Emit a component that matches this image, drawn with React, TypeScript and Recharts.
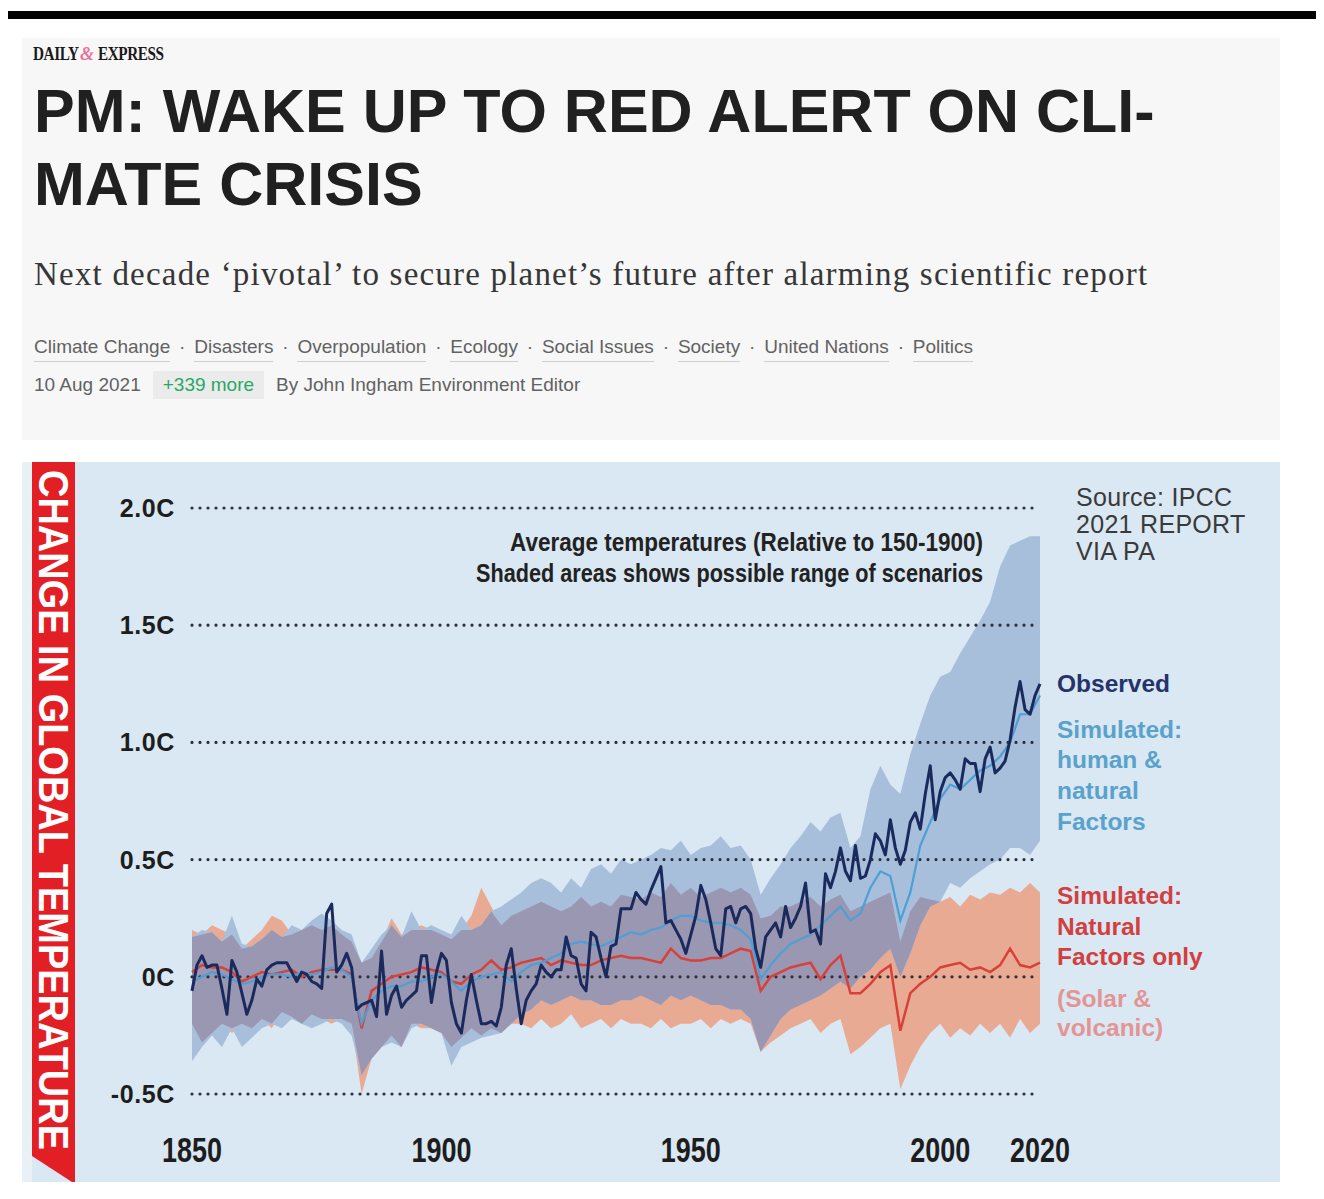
import { ComposedChart, Line, Area, XAxis, YAxis, ReferenceLine } from 'recharts';

// observed annual anomaly, 1850..2020
const observed = [
  -0.06, 0.05, 0.09, 0.04, 0.05, 0.05, -0.05, -0.16, 0.07, 0.02,
  -0.07, -0.16, -0.10, -0.01, -0.04, 0.03, 0.05, 0.06, 0.06, 0.06,
  0.02, -0.02, 0.02, 0.01, -0.02, -0.03, -0.05, 0.27, 0.31, 0.02,
  0.05, 0.10, 0.04, -0.14, -0.12, -0.11, -0.10, -0.17, 0.11, -0.16,
  -0.08, -0.04, -0.13, -0.10, -0.08, -0.06, 0.09, 0.09, -0.11, 0.02,
  0.10, 0.07, -0.11, -0.20, -0.24, -0.10, 0.01, -0.10, -0.20, -0.20,
  -0.19, -0.21, -0.13, 0.05, 0.12, -0.05, -0.20, -0.10, -0.06, -0.03,
  0.05, 0.02, 0.00, 0.03, 0.03, 0.17, 0.09, 0.08, -0.03, -0.06,
  0.19, 0.17, 0.08, 0.00, 0.13, 0.14, 0.29, 0.29, 0.29, 0.36,
  0.33, 0.31, 0.37, 0.42, 0.47, 0.23, 0.24, 0.20, 0.16, 0.10,
  0.18, 0.26, 0.39, 0.33, 0.23, 0.12, 0.09, 0.29, 0.30, 0.23,
  0.29, 0.30, 0.27, 0.12, 0.04, 0.17, 0.20, 0.23, 0.17, 0.30,
  0.21, 0.25, 0.30, 0.40, 0.19, 0.20, 0.14, 0.44, 0.38, 0.45,
  0.55, 0.45, 0.41, 0.56, 0.42, 0.43, 0.50, 0.61, 0.58, 0.52,
  0.67, 0.55, 0.48, 0.54, 0.66, 0.70, 0.63, 0.78, 0.90, 0.67,
  0.79, 0.85, 0.87, 0.84, 0.80, 0.93, 0.91, 0.91, 0.79, 0.93,
  0.98, 0.87, 0.89, 0.92, 1.01, 1.15, 1.26, 1.14, 1.12, 1.20,
  1.25,
];

// simulations, every second year 1850..2020
const simHuman = [
  -0.02, 0.00, 0.02, 0.01, -0.01, -0.03, -0.02, 0.00, 0.01, 0.01,
  0.00, 0.02, 0.01, 0.02, 0.04, 0.03, 0.00, -0.20, -0.10, -0.06,
  -0.04, -0.04, -0.02, -0.02, 0.00, 0.01, -0.02, -0.06, -0.02, 0.00,
  0.01, 0.02, -0.02, 0.02, 0.05, 0.06, 0.08, 0.10, 0.14, 0.15,
  0.14, 0.13, 0.15, 0.17, 0.19, 0.18, 0.20, 0.21, 0.24, 0.26,
  0.26, 0.24, 0.23, 0.23, 0.22, 0.20, 0.16, -0.01, 0.05, 0.10,
  0.14, 0.16, 0.18, 0.22, 0.26, 0.30, 0.24, 0.27, 0.38, 0.45,
  0.43, 0.24, 0.36, 0.56, 0.66, 0.76, 0.82, 0.80, 0.84, 0.88,
  0.90, 0.94, 1.00, 1.12, 1.12, 1.20,
];
const humanLow = [
  -0.36, -0.30, -0.25, -0.30, -0.22, -0.30, -0.26, -0.22, -0.20, -0.22,
  -0.18, -0.20, -0.22, -0.20, -0.18, -0.20, -0.25, -0.42, -0.35, -0.30,
  -0.28, -0.30, -0.22, -0.20, -0.22, -0.24, -0.38, -0.30, -0.28, -0.26,
  -0.25, -0.24, -0.20, -0.16, -0.14, -0.10, -0.12, -0.10, -0.08, -0.10,
  -0.10, -0.12, -0.12, -0.10, -0.10, -0.08, -0.10, -0.12, -0.08, -0.10,
  -0.08, -0.10, -0.12, -0.12, -0.14, -0.14, -0.18, -0.32, -0.25, -0.18,
  -0.14, -0.12, -0.10, -0.08, -0.05, -0.02, -0.05, 0.00, 0.03, 0.08,
  0.12, 0.00, 0.10, 0.22, 0.30, 0.32, 0.40, 0.38, 0.42, 0.45,
  0.48, 0.50, 0.55, 0.55, 0.52, 0.58,
];
const humanHigh = [
  0.17, 0.20, 0.19, 0.15, 0.26, 0.14, 0.13, 0.16, 0.20, 0.17,
  0.22, 0.20, 0.24, 0.27, 0.24, 0.20, 0.18, 0.06, 0.12, 0.18,
  0.22, 0.17, 0.28, 0.20, 0.22, 0.20, 0.18, 0.26, 0.20, 0.22,
  0.28, 0.30, 0.33, 0.36, 0.40, 0.42, 0.40, 0.36, 0.42, 0.38,
  0.46, 0.48, 0.44, 0.50, 0.48, 0.50, 0.52, 0.55, 0.54, 0.58,
  0.52, 0.55, 0.56, 0.60, 0.55, 0.56, 0.50, 0.35, 0.42, 0.48,
  0.55, 0.60, 0.66, 0.62, 0.68, 0.70, 0.55, 0.60, 0.80, 0.90,
  0.82, 0.78, 0.95, 1.08, 1.20, 1.28, 1.30, 1.38, 1.45, 1.52,
  1.60, 1.75, 1.84, 1.86, 1.88, 1.88,
];
const simNatural = [
  0.02, 0.05, 0.04, 0.04, 0.02, -0.02, 0.00, 0.02, 0.01, 0.02,
  0.03, 0.00, 0.02, 0.03, 0.03, 0.03, 0.01, -0.22, -0.06, -0.03,
  0.00, 0.01, 0.02, 0.04, 0.03, 0.02, -0.02, -0.03, 0.01, 0.03,
  0.07, 0.03, 0.04, 0.06, 0.07, 0.08, 0.05, 0.07, 0.06, 0.05,
  0.05, 0.07, 0.08, 0.09, 0.08, 0.08, 0.07, 0.06, 0.12, 0.08,
  0.07, 0.07, 0.08, 0.08, 0.10, 0.12, 0.11, -0.06, 0.00, 0.02,
  0.04, 0.05, 0.06, -0.01, 0.05, 0.09, -0.07, -0.07, -0.03, 0.02,
  0.05, -0.23, -0.07, -0.03, 0.00, 0.04, 0.05, 0.06, 0.03, 0.04,
  0.02, 0.05, 0.12, 0.05, 0.04, 0.06,
];
const naturalLow = [
  -0.20, -0.28, -0.24, -0.20, -0.24, -0.20, -0.22, -0.18, -0.22, -0.15,
  -0.17, -0.20, -0.16, -0.18, -0.20, -0.18, -0.20, -0.50, -0.35, -0.30,
  -0.25, -0.30, -0.20, -0.22, -0.22, -0.24, -0.30, -0.26, -0.22, -0.25,
  -0.22, -0.24, -0.20, -0.20, -0.22, -0.18, -0.22, -0.20, -0.16, -0.22,
  -0.20, -0.18, -0.22, -0.18, -0.20, -0.20, -0.22, -0.18, -0.22, -0.20,
  -0.20, -0.18, -0.22, -0.18, -0.20, -0.18, -0.20, -0.32, -0.28, -0.25,
  -0.22, -0.20, -0.18, -0.24, -0.20, -0.18, -0.33, -0.30, -0.26, -0.22,
  -0.20, -0.48, -0.38, -0.30, -0.24, -0.20, -0.26, -0.22, -0.25, -0.20,
  -0.24, -0.20, -0.26, -0.18, -0.24, -0.20,
];
const naturalHigh = [
  0.20, 0.18, 0.22, 0.20, 0.18, 0.12, 0.16, 0.20, 0.26, 0.24,
  0.18, 0.20, 0.22, 0.20, 0.22, 0.18, 0.15, 0.06, 0.08, 0.15,
  0.25, 0.18, 0.20, 0.22, 0.20, 0.18, 0.16, 0.20, 0.26, 0.38,
  0.30, 0.22, 0.26, 0.28, 0.30, 0.32, 0.30, 0.28, 0.30, 0.34,
  0.30, 0.32, 0.30, 0.35, 0.34, 0.33, 0.36, 0.34, 0.40, 0.35,
  0.38, 0.34, 0.36, 0.38, 0.36, 0.38, 0.35, 0.25, 0.26, 0.30,
  0.30, 0.32, 0.34, 0.30, 0.33, 0.35, 0.28, 0.30, 0.32, 0.34,
  0.36, 0.15, 0.28, 0.34, 0.33, 0.32, 0.34, 0.30, 0.35, 0.33,
  0.36, 0.35, 0.38, 0.36, 0.40, 0.36,
];

const yearTicks = [1850, 1900, 1950, 2000, 2020];
const tempTicks = [-0.5, 0, 0.5, 1, 1.5, 2];
const tags = ['Climate Change', 'Disasters', 'Overpopulation', 'Ecology', 'Social Issues', 'Society', 'United Nations', 'Politics'];

const obsData = observed.map((v, i) => ({ year: 1850 + i, obs: v }));
const simData = simHuman.map((v, i) => {
  // where the two ranges overlap the graphic uses its own grey-mauve tone
  const lo = Math.max(humanLow[i], naturalLow[i]);
  const hi = Math.min(humanHigh[i], naturalHigh[i]);
  const mid = (lo + hi) / 2;
  return {
    year: 1850 + i * 2,
    hum: v,
    nat: simNatural[i],
    humRange: [humanLow[i], humanHigh[i]],
    natRange: [naturalLow[i], naturalHigh[i]],
    bothRange: lo < hi ? [lo, hi] : [mid, mid],
  };
});

const fmtTemp = (v: number) => (v === 0 ? '0C' : v.toFixed(1) + 'C');

const YTick = (props: any) => (
  <text x={props.x} y={props.y} dy={9} textAnchor="end" fontFamily="Liberation Sans, Arial, sans-serif"
    fontWeight={700} fontSize={25} letterSpacing={0.6} fill="#1d1d1d">
    {fmtTemp(props.payload.value)}
  </text>
);

const XTick = (props: any) => (
  <text x={props.x} y={props.y + 68} textAnchor="middle" textLength={60} lengthAdjust="spacingAndGlyphs"
    fontFamily="Liberation Sans Narrow, Liberation Sans, Arial, sans-serif" fontWeight={700} fontSize={35} fill="#1d1d1d">
    {props.payload.value}
  </text>
);

const legend = [
  { text: 'Observed', y: 692, color: '#26336a' },
  { text: 'Simulated:', y: 738, color: '#5aa2cb' },
  { text: 'human &', y: 768, color: '#5aa2cb' },
  { text: 'natural', y: 799, color: '#5aa2cb' },
  { text: 'Factors', y: 830, color: '#5aa2cb' },
  { text: 'Simulated:', y: 904, color: '#d23f3e' },
  { text: 'Natural', y: 935, color: '#d23f3e' },
  { text: 'Factors only', y: 965, color: '#d23f3e' },
  { text: '(Solar &', y: 1007, color: '#e39595' },
  { text: 'volcanic)', y: 1036, color: '#e39595' },
];

export default function App() {
  return (
    <div style={styles.page}>
      <div style={styles.topBar} />
      <div style={styles.leftBar} />

      <div style={styles.header}>
        <div style={styles.logo}>
          <span style={styles.logoWord}>DAILY</span>
          <span style={styles.logoMark}>&amp;</span>
          <span style={styles.logoWord}>EXPRESS</span>
        </div>
        <div style={styles.title}>PM: WAKE UP TO RED ALERT ON CLI-<br />MATE CRISIS</div>
        <div style={styles.subtitle}>Next decade ‘pivotal’ to secure planet’s future after alarming scientific report</div>
        <div style={styles.tags}>
          {tags.map((t, i) => (
            <span key={t} style={{ display: 'flex' }}>
              {i > 0 && <span style={styles.sep}>·</span>}
              <span style={styles.tag}>{t}</span>
            </span>
          ))}
        </div>
        <div style={styles.meta}>
          <span>10 Aug 2021</span>
          <span style={styles.pill}>+339 more</span>
          <span>By John Ingham Environment Editor</span>
        </div>
      </div>

      <div style={styles.panel} />
      <div style={styles.panelEdge} />

      <svg width={1324} height={1199} style={styles.overlay}>
        <polygon points="32,462 75,462 75,1182 72,1182 32,1156" fill="#e31f26" />
        <text transform="translate(54,810) rotate(90)" x={0} y={15} textAnchor="middle" textLength={680}
          lengthAdjust="spacingAndGlyphs" fontFamily="Liberation Sans Narrow, Liberation Sans, Arial, sans-serif"
          fontWeight={700} fontSize={42} fill="#ffffff">
          CHANGE IN GLOBAL TEMPERATURE
        </text>
      </svg>

      <div style={styles.chartBox}>
        <ComposedChart width={1000} height={684} margin={{ top: 18, right: 60, bottom: 0, left: 0 }}>
          <XAxis type="number" dataKey="year" domain={[1850, 2020]} ticks={yearTicks} axisLine={false}
            tickLine={false} tickSize={0} tickMargin={0} height={80} tick={<XTick />} interval={0} />
          <YAxis type="number" domain={[-0.5, 2]} ticks={tempTicks} axisLine={false} tickLine={false}
            tickSize={0} tickMargin={17} width={92} tick={<YTick />} interval={0} />
          <Area data={simData} dataKey="natRange" type="linear" stroke="none" fill="#e9aa94" fillOpacity={1}
            isAnimationActive={false} />
          <Area data={simData} dataKey="humRange" type="linear" stroke="none" fill="#a8bfdc" fillOpacity={1}
            isAnimationActive={false} />
          <Area data={simData} dataKey="bothRange" type="linear" stroke="none" fill="#9a97b3" fillOpacity={1}
            isAnimationActive={false} />
          {tempTicks.map(t => (
            <ReferenceLine key={t} y={t} stroke="#2b303a" strokeWidth={3.2} strokeDasharray="0 8" strokeLinecap="round" />
          ))}
          <Line data={simData} dataKey="nat" type="linear" stroke="#d8413a" strokeWidth={2.5} dot={false}
            isAnimationActive={false} />
          <Line data={simData} dataKey="hum" type="linear" stroke="#4d9fd5" strokeWidth={2.2} dot={false}
            isAnimationActive={false} />
          <Line data={obsData} dataKey="obs" type="linear" stroke="#1b2a5c" strokeWidth={3} dot={false}
            strokeLinejoin="round" isAnimationActive={false} />
        </ComposedChart>
      </div>

      <svg width={1324} height={1199} style={styles.overlay}>
        <g fontFamily="Liberation Sans Narrow, Liberation Sans, Arial, sans-serif" fontWeight={700} fontSize={26}
          fill="#222" textAnchor="end">
          <text x={983} y={551} textLength={473} lengthAdjust="spacingAndGlyphs">Average temperatures (Relative to 150-1900)</text>
          <text x={983} y={582} textLength={507} lengthAdjust="spacingAndGlyphs">Shaded areas shows possible range of scenarios</text>
        </g>
        <g fontFamily="Liberation Sans, Arial, sans-serif" fontSize={25} letterSpacing={0.3} fill="#3a3a3a">
          <text x={1076} y={506}>Source: IPCC</text>
          <text x={1076} y={533}>2021 REPORT</text>
          <text x={1076} y={560}>VIA PA</text>
        </g>
        <g fontFamily="Liberation Sans, Arial, sans-serif" fontSize={24.5} fontWeight={700}>
          {legend.map((l, i) => (
            <text key={i} x={1057} y={l.y} fill={l.color}>{l.text}</text>
          ))}
        </g>
      </svg>
    </div>
  );
}

const styles: any = {
  page: { position: 'relative', width: 1324, height: 1199, margin: -8, background: '#fff', overflow: 'hidden' },
  topBar: { position: 'absolute', left: 0, top: 11, width: 1324, height: 8, background: '#000' },
  leftBar: { position: 'absolute', left: 0, top: 11, width: 7, height: 1188, background: '#000' },
  header: { position: 'absolute', left: 22, top: 38, width: 1258, height: 402, background: '#f7f7f7' },
  logo: { position: 'absolute', left: 11, top: 6, display: 'flex', alignItems: 'baseline', fontFamily: 'Liberation Serif, serif', fontWeight: 700, fontSize: 19, color: '#1a1a1a', lineHeight: '20px' },
  logoWord: { display: 'inline-block', transform: 'scaleX(0.8)', transformOrigin: 'left', letterSpacing: -0.5, marginRight: -12 },
  logoMark: { color: '#e8739a', fontStyle: 'italic', fontSize: 18, marginLeft: 2, marginRight: 4 },
  title: { position: 'absolute', left: 12, top: 37, fontFamily: 'Liberation Sans, Arial, sans-serif', fontWeight: 700, fontSize: 61, lineHeight: '73px', color: '#202020', whiteSpace: 'nowrap' },
  subtitle: { position: 'absolute', left: 12, top: 216, fontFamily: 'Liberation Serif, Georgia, serif', fontSize: 33, letterSpacing: 1.2, lineHeight: '40px', color: '#363636', whiteSpace: 'nowrap' },
  tags: { position: 'absolute', left: 12, top: 297, display: 'flex', fontFamily: 'Liberation Sans, Arial, sans-serif', fontSize: 19, lineHeight: '24px', color: '#626262' },
  tag: { borderBottom: '1px solid #cfcfcf', paddingBottom: 2 },
  sep: { display: 'inline-block', width: 24, textAlign: 'center' },
  meta: { position: 'absolute', left: 12, top: 333, display: 'flex', alignItems: 'center', gap: 12, fontFamily: 'Liberation Sans, Arial, sans-serif', fontSize: 19, lineHeight: '28px', color: '#626262' },
  pill: { background: '#ebebeb', color: '#2aa866', padding: '0 10px' },
  panel: { position: 'absolute', left: 22, top: 462, width: 1258, height: 720, background: '#d9e8f3' },
  panelEdge: { position: 'absolute', left: 22, top: 462, width: 10, height: 720, background: '#e9f1f7' },
  overlay: { position: 'absolute', left: 0, top: 0, pointerEvents: 'none' },
  chartBox: { position: 'absolute', left: 100, top: 490 },
};
